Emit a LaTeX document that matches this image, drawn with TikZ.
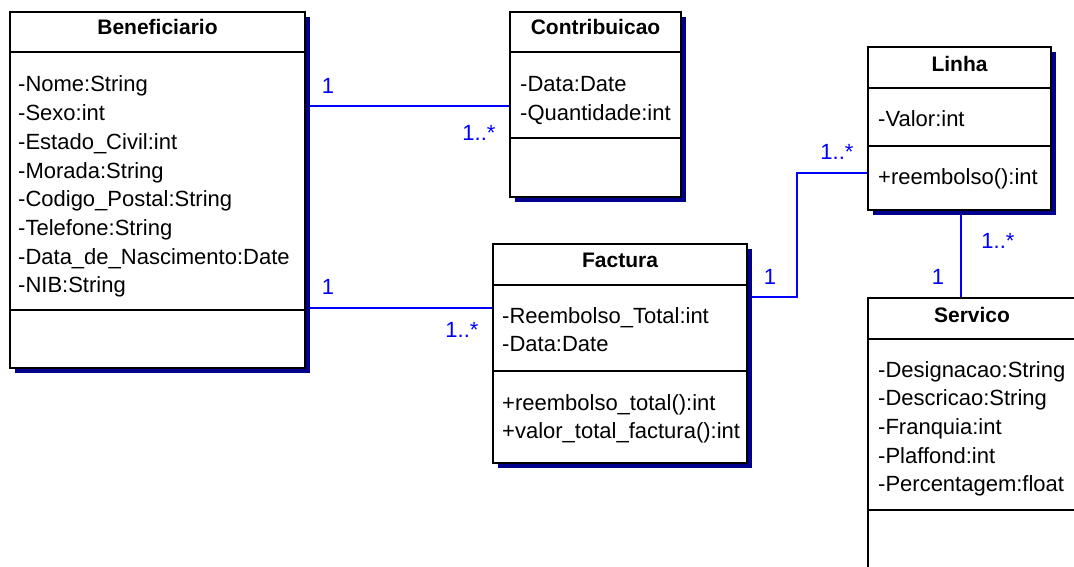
\documentclass[tikz,border=0pt]{standalone}
\usepackage{fontspec}
\setmainfont{Liberation Sans}
\usetikzlibrary{shadows,backgrounds}
\definecolor{umlnavy}{RGB}{0,0,140}
\definecolor{assocblue}{RGB}{0,0,255}

\begin{document}
\begin{tikzpicture}[x=1pt,y=-1pt,
  classbox/.style={draw=black, line width=1.4pt, fill=white, inner sep=0pt,
    outer sep=0pt, anchor=north west,
    drop shadow={shadow xshift=5pt, shadow yshift=-5pt, fill=umlnavy, opacity=1}},
  classtitle/.style={font=\fontsize{21}{21}\selectfont\bfseries, anchor=base, inner sep=0pt},
  memberline/.style={font=\fontsize{22}{22}\selectfont, anchor=base west, inner sep=0pt},
  divider/.style={draw=black, line width=1.4pt},
  assoc/.style={draw=assocblue, line width=1.3pt},
  mult/.style={font=\fontsize{22}{22}\selectfont, text=assocblue, inner sep=0pt}]

\useasboundingbox (0,0) rectangle (1074,567);
\clip (0,0) rectangle (1074,567);

% ---------- Beneficiario ----------
\node[classbox, minimum width=295pt, minimum height=356pt] (ben) at (10,12) {};
\draw[divider] (ben.west |- 0,52) -- (ben.east |- 0,52);
\draw[divider] (ben.west |- 0,310) -- (ben.east |- 0,310);
\node[classtitle] (benT) at (ben.north |- 0,35) {Beneficiario};
\node[memberline] (benA1) at (18,92) {-Nome:String};
\node[memberline] (benA2) at (18,120.7) {-Sexo:int};
\node[memberline] (benA3) at (18,149.4) {-Estado\_Civil:int};
\node[memberline] (benA4) at (18,178.1) {-Morada:String};
\node[memberline] (benA5) at (18,206.8) {-Codigo\_Postal:String};
\node[memberline] (benA6) at (18,235.5) {-Telefone:String};
\node[memberline] (benA7) at (18,264.2) {-Data\_de\_Nascimento:Date};
\node[memberline] (benA8) at (18,292.9) {-NIB:String};

% ---------- Contribuicao ----------
\node[classbox, minimum width=171pt, minimum height=185pt] (con) at (510,12) {};
\draw[divider] (con.west |- 0,52) -- (con.east |- 0,52);
\draw[divider] (con.west |- 0,138) -- (con.east |- 0,138);
\node[classtitle] (conT) at (con.north |- 0,35) {Contribuicao};
\node[memberline] (conA1) at (520,92) {-Data:Date};
\node[memberline] (conA2) at (520,120.7) {-Quantidade:int};

% ---------- Factura ----------
\node[classbox, minimum width=254pt, minimum height=219pt] (fac) at (493,244) {};
\draw[divider] (fac.west |- 0,285) -- (fac.east |- 0,285);
\draw[divider] (fac.west |- 0,371) -- (fac.east |- 0,371);
\node[classtitle] (facT) at (fac.north |- 0,267) {Factura};
\node[memberline] (facA1) at (502,323) {-Reembolso\_Total:int};
\node[memberline] (facA2) at (502,351.7) {-Data:Date};
\node[memberline] (facO1) at (502,410) {+reembolso\_total():int};
\node[memberline] (facO2) at (502,438.7) {+valor\_total\_factura():int};

% ---------- Linha ----------
\node[classbox, minimum width=183pt, minimum height=163pt] (lin) at (868,47) {};
\draw[divider] (lin.west |- 0,88) -- (lin.east |- 0,88);
\draw[divider] (lin.west |- 0,146) -- (lin.east |- 0,146);
\node[classtitle] (linT) at (lin.north |- 0,72) {Linha};
\node[memberline] (linA1) at (878,127) {-Valor:int};
\node[memberline] (linO1) at (878,184) {+reembolso():int};

% ---------- Servico ----------
\node[classbox, minimum width=208pt, minimum height=300pt] (ser) at (868,298) {};
\draw[divider] (ser.west |- 0,339) -- (ser.east |- 0,339);
\draw[divider] (ser.west |- 0,510) -- (ser.east |- 0,510);
\node[classtitle] (serT) at (ser.north |- 0,322) {Servico};
\node[memberline] (serA1) at (878,377) {-Designacao:String};
\node[memberline] (serA2) at (878,405.7) {-Descricao:String};
\node[memberline] (serA3) at (878,434.4) {-Franquia:int};
\node[memberline] (serA4) at (878,463.1) {-Plaffond:int};
\node[memberline] (serA5) at (878,491.8) {-Percentagem:float};

% ---------- associations (behind the class shadows) ----------
\coordinate (bendA) at (797,297);
\coordinate (bendB) at (797,173);
\begin{scope}[on background layer]
  \draw[assoc] (ben.east |- 0,106) -- (con.west |- 0,106);
  \draw[assoc] (ben.east |- 0,308) -- (fac.west |- 0,308);
  \draw[assoc] (fac.east |- bendA) -- (bendA) -- (bendB) -- (lin.west |- bendB);
  \draw[assoc] (lin.south -| 961,0) -- (ser.north -| 961,0);
\end{scope}

% ---------- multiplicities ----------
\node[mult] (mBenCon) at (328,86) {1};
\node[mult] (mConBen) at (479,133) {1..*};
\node[mult] (mBenFac) at (328,287) {1};
\node[mult] (mFacBen) at (462,330) {1..*};
\node[mult] (mFacLin) at (770,277) {1};
\node[mult] (mLinFac) at (837,152) {1..*};
\node[mult] (mLinSer) at (998,241) {1..*};
\node[mult] (mSerLin) at (938,277) {1};

\end{tikzpicture}
\end{document}
